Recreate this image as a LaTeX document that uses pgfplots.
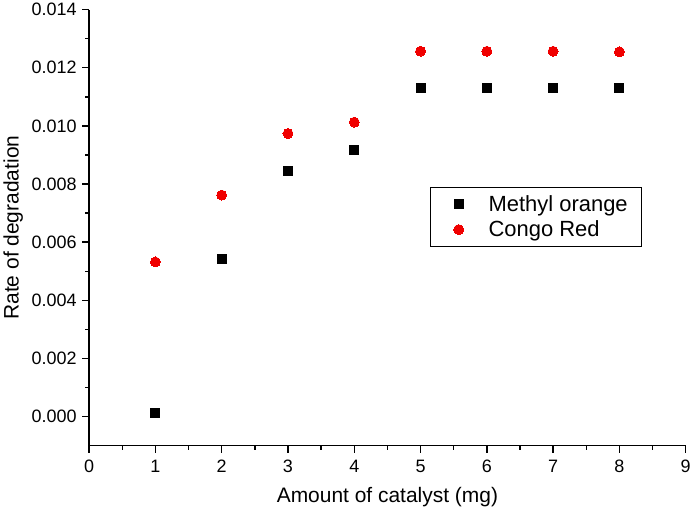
\documentclass[border=0pt]{standalone}
\usepackage{pgfplots}
\pgfplotsset{compat=1.18}
\usepackage{fontspec}
\setmainfont{Liberation Sans}

\definecolor{cred}{RGB}{240,0,0}

\begin{document}
\begin{tikzpicture}
\begin{axis}[
scale only axis,
width=598pt, height=437pt,
xmin=0, xmax=9,
ymin=-0.001, ymax=0.014,
axis x line=bottom, axis y line=left,
axis line style={-, line width=1.4pt},
every tick/.style={black, line width=1.4pt},
tick align=outside,
major tick length=7pt,
minor tick length=4pt,
xtick={0,1,...,9},
ytick={0,0.002,...,0.014},
minor x tick num=1,
minor y tick num=1,
scaled y ticks=false,
/pgf/number format/assume math mode=true,
yticklabel style={/pgf/number format/fixed, /pgf/number format/fixed zerofill, /pgf/number format/precision=3, xshift=-2pt},
xticklabel style={yshift=-4pt},
tick label style={font=\fontsize{18}{18}\selectfont},
label style={font=\fontsize{21}{21}\selectfont},
xlabel style={yshift=-8pt},
ylabel style={yshift=2pt},
xlabel={Amount of catalyst (mg)},
ylabel={Rate of degradation},
legend cell align={left},
legend image code/.code={%
  \path[draw=none] (-16pt,0) -- (28pt,0);
  \draw[#1] plot coordinates {(0pt,0pt)};},
legend style={
  font=\fontsize{22}{28}\selectfont,
  at={(0.572,0.593)}, anchor=north west,
  draw=black, line width=0.8pt,
  inner xsep=12pt, inner ysep=6pt,
  row sep=4pt,
},
]
\addplot [only marks, mark=square*, mark size=4.5pt, mark options={black, fill=black, line width=0pt}]
table {%
1 0.00012
2 0.00542
3 0.00844
4 0.00916
5 0.01132
6 0.01132
7 0.01132
8 0.01132
};
\addlegendentry{Methyl orange}
\addplot [only marks, mark=*, mark size=5pt, mark options={cred, fill=cred, line width=0pt}]
table {%
1 0.00532
2 0.00762
3 0.00974
4 0.01013
5 0.01257
6 0.01257
7 0.01257
8 0.01255
};
\addlegendentry{Congo Red}
\end{axis}
\end{tikzpicture}
\end{document}
